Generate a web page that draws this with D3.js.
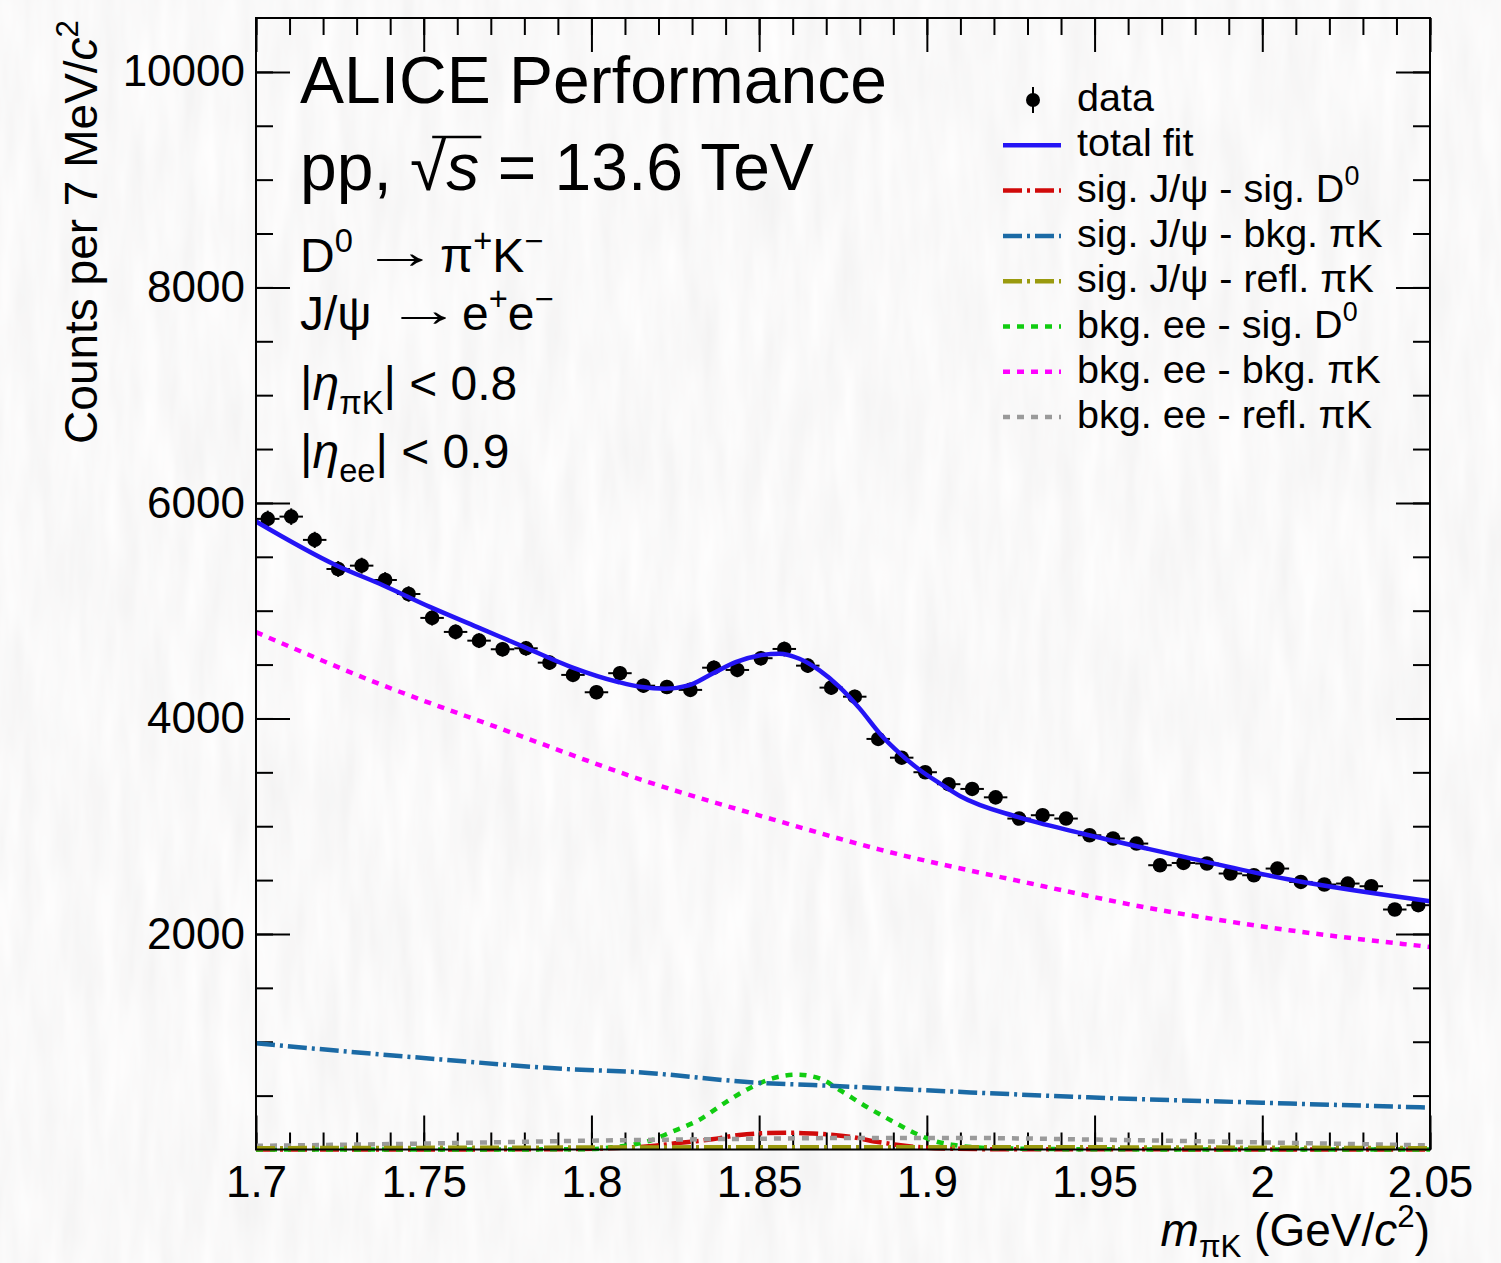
<!DOCTYPE html>
<html><head><meta charset="utf-8">
<script src="https://cdn.jsdelivr.net/npm/d3@7"></script>
<style>
html,body{margin:0;padding:0;background:#f2f1f0;}
svg{display:block;font-family:"Liberation Sans",Arial,Helvetica,sans-serif;}
</style></head><body>
<svg id="c" width="1501" height="1263"></svg>
<script>
// ---------- data ----------
const massBins = [1.7035,1.7105,1.7175,1.7245,1.7315,1.7385,1.7455,1.7525,1.7595,1.7665,
  1.7735,1.7805,1.7875,1.7945,1.8015,1.8085,1.8155,1.8225,1.8295,1.8365,
  1.8435,1.8505,1.8575,1.8645,1.8715,1.8785,1.8855,1.8925,1.8995,1.9065,
  1.9135,1.9205,1.9275,1.9345,1.9415,1.9485,1.9555,1.9625,1.9695,1.9765,
  1.9835,1.9905,1.9975,2.0045,2.0115,2.0185,2.0255,2.0325,2.0395,2.0465];
const counts = [5852,5873,5657,5387,5418,5285,5155,4933,4803,4722,
  4642,4651,4518,4404,4243,4420,4304,4292,4265,4471,
  4450,4559,4645,4490,4286,4202,3810,3636,3501,3390,
  3346,3268,3071,3102,3071,2916,2886,2839,2638,2659,
  2654,2561,2545,2607,2483,2459,2468,2443,2227,2267];

const fitMass  = [1.700,1.724,1.738,1.752,1.766,1.780,1.794,1.808,1.815,1.822,1.829,1.836,1.843,1.850,1.856,1.862,1.868,1.874,1.880,1.886,1.892,1.898,1.904,1.910,1.927,1.946,1.966,1.976,2.008,2.050];
const totalFit = [5828,5420,5234,5033,4848,4662,4477,4338,4291,4276,4307,4415,4523,4585,4601,4554,4446,4291,4091,3859,3674,3519,3395,3278,3086,2935,2790,2720,2505,2304];

const bkgBkgMass = [1.700,1.736,1.773,1.817,1.854,1.886,1.931,1.967,2.008,2.050];
const bkgBkg     = [4801,4330,3905,3410,3064,2783,2468,2236,2035,1880];

const sigBkgMass = [1.700,1.755,1.794,1.812,1.850,1.866,1.913,1.948,2.000,2.050];
const sigBkg     = [985,836,744,721,619,598,530,484,434,389];

const bkgSigMass = [1.700,1.780,1.800,1.806,1.818,1.824,1.832,1.840,1.847,1.854,1.861,1.868,1.874,1.882,1.890,1.897,1.903,1.908,1.920,1.950,2.000,2.050];
const bkgSig     = [0,1,4,20,88,165,273,438,567,660,695,660,552,397,258,144,72,42,12,2,0,0];

const sigSigMass = [1.700,1.790,1.805,1.818,1.825,1.836,1.844,1.852,1.860,1.868,1.877,1.885,1.894,1.905,1.920,2.050];
const sigSig     = [0,2,12,32,57,95,134,152,155,145,119,72,32,10,3,0];

const bkgReflMass = [1.700,1.750,1.800,1.850,1.880,1.910,1.950,2.000,2.050];
const bkgRefl     = [34,55,82,100,107,107,92,66,38];

const sigReflMass = [1.700,1.800,1.880,1.950,2.050];
const sigRefl     = [12,18,22,20,12];

const xTicks = [1.70,1.75,1.80,1.85,1.90,1.95,2.00,2.05];
const xTickLabels = ["1.7","1.75","1.8","1.85","1.9","1.95","2","2.05"];
const yTicks = [2000,4000,6000,8000,10000];
const yTickLabels = ["2000","4000","6000","8000","10000"];

// ---------- layout ----------
const L = 256, R = 1430, T = 18, B = 1149.5;
const FONT = '"Liberation Sans",Arial,Helvetica,sans-serif';
const svg = d3.select("#c");

// paper-like background
const defs = svg.append("defs");
const flt = defs.append("filter").attr("id", "paper").attr("x", 0).attr("y", 0)
  .attr("width", "100%").attr("height", "100%");
flt.append("feTurbulence").attr("type", "fractalNoise").attr("baseFrequency", "0.05 0.008")
  .attr("numOctaves", 3).attr("seed", 7).attr("result", "n");
flt.append("feColorMatrix").attr("in", "n").attr("type", "matrix")
  .attr("values", "0.12 0 0 0 0.89  0.12 0 0 0 0.885  0.12 0 0 0 0.885  0 0 0 0 1");
svg.append("rect").attr("width", 1501).attr("height", 1263).attr("filter", "url(#paper)");

const x = d3.scaleLinear().domain([1.7, 2.05]).range([L, R]);
const y = d3.scaleLinear().domain([0, 10500]).range([B, T]);

function rich(g, px, py, size, parts, anchor) {
  const t = g.append("text").attr("x", px).attr("y", py)
    .attr("font-size", size).attr("text-anchor", anchor || "start").attr("fill", "#000");
  let shift = 0;
  parts.forEach(p => {
    const target = p.sup ? -size * 0.42 : (p.sub ? size * (p.subShift || 0.30) : 0);
    const ts = t.append("tspan").text(p.t).attr("dy", target - shift);
    shift = target;
    if (p.sup || p.sub) ts.attr("font-size", size * (p.scale || 0.68));
    if (p.it) ts.attr("font-style", "italic");
  });
  return t;
}
// long thin arrow: the "→" glyph stretched horizontally so its ink spans [x0, x0+w]
const ctx = document.createElement("canvas").getContext("2d");
ctx.font = "48px " + FONT;
const am = ctx.measureText("→");
const inkL = -am.actualBoundingBoxLeft, inkW = am.actualBoundingBoxRight + am.actualBoundingBoxLeft;
function arrow(x0, py, w) {
  const s = w / (inkW > 1 ? inkW : 27);
  const off = inkW > 1 ? inkL : 10;
  svg.append("g").attr("transform", `translate(${x0 - off * s},${py}) scale(${s},1)`)
    .append("text").attr("font-size", 48).attr("fill", "#000").text("→");
}

// ---------- axes ----------
const minorX = d3.range(170, 206).map(i => i / 100);
const minorY = d3.range(0, 21).map(i => i * 500);
function styleAxis(g) {
  g.select(".domain").remove();
  g.selectAll(".tick line").attr("stroke", "#000").attr("stroke-width", 2);
  g.selectAll(".tick text").attr("fill", "#000").attr("font-size", 44).attr("font-family", FONT);
}
svg.append("g").attr("transform", `translate(0,${B})`)
  .call(d3.axisBottom(x).tickValues(minorX).tickSize(-17).tickFormat("")).call(styleAxis);
svg.append("g").attr("transform", `translate(0,${B})`)
  .call(d3.axisBottom(x).tickValues(xTicks).tickSize(-34).tickPadding(16.5)
    .tickFormat((d, i) => xTickLabels[i])).call(styleAxis);
svg.append("g").attr("transform", `translate(0,${T})`)
  .call(d3.axisTop(x).tickValues(minorX).tickSize(-17).tickFormat("")).call(styleAxis);
svg.append("g").attr("transform", `translate(0,${T})`)
  .call(d3.axisTop(x).tickValues(xTicks).tickSize(-34).tickFormat("")).call(styleAxis);
svg.append("g").attr("transform", `translate(${L},0)`)
  .call(d3.axisLeft(y).tickValues(minorY).tickSize(-17).tickFormat("")).call(styleAxis);
svg.append("g").attr("transform", `translate(${L},0)`)
  .call(d3.axisLeft(y).tickValues(yTicks).tickSize(-34).tickPadding(11)
    .tickFormat((d, i) => yTickLabels[i])).call(styleAxis);
svg.append("g").attr("transform", `translate(${R},0)`)
  .call(d3.axisRight(y).tickValues(minorY).tickSize(-17).tickFormat("")).call(styleAxis);
svg.append("g").attr("transform", `translate(${R},0)`)
  .call(d3.axisRight(y).tickValues(yTicks).tickSize(-34).tickFormat("")).call(styleAxis);

// ---------- data points ----------
const gd = svg.append("g");
const half = 0.0035;
massBins.forEach((m, i) => {
  const v = counts[i], e = Math.sqrt(v);
  gd.append("line").attr("x1", x(m - half)).attr("x2", x(m + half))
    .attr("y1", y(v)).attr("y2", y(v)).attr("stroke", "#000").attr("stroke-width", 2);
  gd.append("line").attr("x1", x(m)).attr("x2", x(m))
    .attr("y1", y(v - e)).attr("y2", y(v + e)).attr("stroke", "#000").attr("stroke-width", 2);
  gd.append("circle").attr("cx", x(m)).attr("cy", y(v)).attr("r", 7.3).attr("fill", "#000");
});

// ---------- curves ----------
const comps = [
  {m: sigSigMass,  v: sigSig,  color: "#d10a0a", dash: "19 5 3 5", w: 4.5},
  {m: bkgSigMass,  v: bkgSig,  color: "#11cc11", dash: "7 7", w: 4.5},
  {m: bkgBkgMass,  v: bkgBkg,  color: "#ff00ff", dash: "7 7", w: 4.5},
  {m: bkgReflMass, v: bkgRefl, color: "#9a9a9a", dash: "7 7", w: 4.5},
  {m: sigBkgMass,  v: sigBkg,  color: "#1b6aa5", dash: "19 5 3 5", w: 4.5},
  {m: sigReflMass, v: sigRefl, color: "#9a9a0e", dash: "19 5 3 5", w: 4.5},
  {m: fitMass,     v: totalFit, color: "#2414f5", dash: null, w: 4.5}
];
const line = d3.line().x(d => x(d[0])).y(d => y(d[1])).curve(d3.curveMonotoneX);
comps.forEach(c => {
  const pts = c.m.map((m, i) => [m, c.v[i]]);
  const p = svg.append("path").attr("d", line(pts)).attr("fill", "none")
    .attr("stroke", c.color).attr("stroke-width", c.w);
  if (c.dash) p.attr("stroke-dasharray", c.dash);
});

// frame
svg.append("rect").attr("x", L).attr("y", T).attr("width", R - L).attr("height", B - T)
  .attr("fill", "none").attr("stroke", "#000").attr("stroke-width", 2);

// ---------- axis titles ----------
rich(svg.append("g").attr("transform", "translate(97,20) rotate(-90)"), 0, 0, 46,
  [{t: "Counts per 7 MeV/"}, {t: "c", it: true}, {t: "2", sup: true}], "end");
rich(svg, 1430, 1246, 46,
  [{t: "m", it: true}, {t: "πK", sub: true, subShift: 0.24}, {t: " (GeV/"}, {t: "c", it: true}, {t: "2", sup: true}, {t: ")"}], "end");

// ---------- annotation text ----------
rich(svg, 300, 103, 66, [{t: "ALICE Performance"}]);
const pp = rich(svg, 300, 190, 66, [{t: "pp, "}, {t: "√"}, {t: "s", it: true}, {t: " = 13.6 TeV"}]);
{
  const n = pp.node();
  const s0 = n.getStartPositionOfChar(5).x, s1 = n.getEndPositionOfChar(5).x;
  const r0 = n.getStartPositionOfChar(4).x;
  svg.append("line").attr("x1", (r0 + s0) / 2 + 4).attr("x2", s1 + 2)
    .attr("y1", 137).attr("y2", 137).attr("stroke", "#000").attr("stroke-width", 2.5);
}
rich(svg, 300, 272, 48, [{t: "D"}, {t: "0", sup: true}]);
arrow(376, 268, 48);
rich(svg, 440, 272, 48, [{t: "π"}, {t: "+", sup: true}, {t: "K"}, {t: "−", sup: true}]);
rich(svg, 300, 330, 48, [{t: "J/ψ"}]);
arrow(400, 326, 47);
rich(svg, 462, 330, 48, [{t: "e"}, {t: "+", sup: true}, {t: "e"}, {t: "−", sup: true}]);
rich(svg, 300, 400, 48, [{t: "|"}, {t: "η", it: true}, {t: "πK", sub: true}, {t: "| < 0.8"}]);
rich(svg, 300, 468, 48, [{t: "|"}, {t: "η", it: true}, {t: "ee", sub: true}, {t: "| < 0.9"}]);

// ---------- legend ----------
const legendItems = [
  {parts: [{t: "data"}], type: "data"},
  {parts: [{t: "total fit"}], color: "#2414f5", dash: null},
  {parts: [{t: "sig. J/ψ - sig. D"}, {t: "0", sup: true}], color: "#d10a0a", dash: "19 5 3 5"},
  {parts: [{t: "sig. J/ψ - bkg. πK"}], color: "#1b6aa5", dash: "19 5 3 5"},
  {parts: [{t: "sig. J/ψ - refl. πK"}], color: "#9a9a0e", dash: "19 5 3 5"},
  {parts: [{t: "bkg. ee - sig. D"}, {t: "0", sup: true}], color: "#11cc11", dash: "7 7"},
  {parts: [{t: "bkg. ee - bkg. πK"}], color: "#ff00ff", dash: "7 7"},
  {parts: [{t: "bkg. ee - refl. πK"}], color: "#9a9a9a", dash: "7 7"}
];
const lg = svg.append("g");
legendItems.forEach((it, i) => {
  const by = 111 + i * 45.3;
  const cy = by - 11;
  if (it.type === "data") {
    lg.append("line").attr("x1", 1033).attr("x2", 1033).attr("y1", cy - 13).attr("y2", cy + 13)
      .attr("stroke", "#000").attr("stroke-width", 2);
    lg.append("circle").attr("cx", 1033).attr("cy", cy).attr("r", 7).attr("fill", "#000");
  } else {
    const l = lg.append("line").attr("x1", 1003).attr("x2", 1061).attr("y1", cy).attr("y2", cy)
      .attr("stroke", it.color).attr("stroke-width", 4.5);
    if (it.dash) l.attr("stroke-dasharray", it.dash);
  }
  rich(lg, 1077, by, 39.5, it.parts);
});
</script>
</body></html>
